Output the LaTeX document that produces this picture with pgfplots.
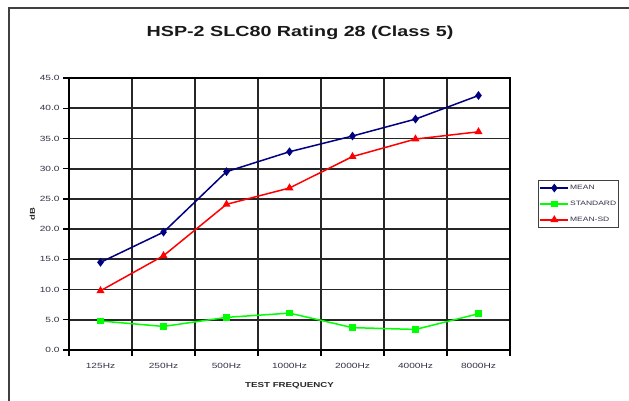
\documentclass[border=0pt]{standalone}
\usepackage{fontspec}
\usepackage{pgfplots}
\pgfplotsset{compat=1.18}
\newfontfamily\cf[FakeStretch=1.35]{Liberation Sans}
\definecolor{meancol}{RGB}{0,0,128}
\definecolor{stdcol}{RGB}{0,255,0}
\definecolor{sdcol}{RGB}{255,0,0}
\definecolor{txtcol}{RGB}{50,50,70}
\begin{document}
\begin{tikzpicture}
\path[use as bounding box] (0,0) rectangle (629pt,401pt);
\draw[line width=2pt, black!75] (8.5pt,-2pt) -- (8.5pt,392.5pt) -- (640pt,392.5pt);
\node[font=\cf\bfseries\fontsize{14.6}{16}\selectfont, text=black!90] at (300pt,368pt) {HSP-2 SLC80 Rating 28 (Class 5)};
\begin{axis}[
  at={(69pt,51pt)}, anchor=south west,
  scale only axis, width=441pt, height=272pt,
  xmin=-0.5, xmax=6.5, ymin=0, ymax=45,
  xtick={0,1,2,3,4,5,6},
  xticklabels={125Hz,250Hz,500Hz,1000Hz,2000Hz,4000Hz,8000Hz},
  minor xtick={-0.5,0.5,1.5,2.5,3.5,4.5,5.5,6.5},
  major x tick style={draw=none},
  xminorgrids, ymajorgrids,
  ytick={0,5,...,45},
  yticklabel style={/pgf/number format/.cd, fixed, fixed zerofill, precision=1, assume math mode=true},
  tick align=outside, tick pos=left,
  major tick length=6pt, minor tick length=6pt,
  tick style={black, line width=1.3pt},
  grid style={black!85, line width=1.7pt},
  major grid style={black!85, line width=1.7pt},
  minor grid style={black!85, line width=1.7pt},
  axis line style={black, line width=1.7pt},
  tick label style={font=\cf\fontsize{7.5}{8}\selectfont, text=txtcol},
  xticklabel style={yshift=-4pt},
  xlabel={TEST FREQUENCY},
  xlabel style={font=\cf\bfseries\fontsize{7.2}{8}\selectfont, text=black!85, yshift=-7pt},
  ylabel={dB},
  ylabel style={font=\cf\bfseries\fontsize{7}{8}\selectfont, text=black!85, yshift=-2pt},
  legend style={at={(1,0.537)}, anchor=west, xshift=28pt,
    draw=black!75, line width=1.2pt, font=\cf\fontsize{6.3}{7}\selectfont,
    inner xsep=1pt, inner ysep=3pt, row sep=6pt, text=txtcol,
    nodes={inner xsep=1pt}},
  legend cell align=left,
  legend image code/.code={\draw[mark repeat=2,mark phase=2,#1] plot coordinates {(0pt,0pt) (14pt,0pt) (28pt,0pt)};},
]
\addplot[meancol, line width=1.5pt, mark=diamond*, mark size=3.2pt] coordinates {
(0,14.5) (1,19.5) (2,29.5) (3,32.8) (4,35.4) (5,38.2) (6,42.1)};
\addlegendentry{MEAN}
\addplot[stdcol, line width=1.5pt, mark=square*, mark size=2.6pt] coordinates {
(0,4.8) (1,3.9) (2,5.4) (3,6.1) (4,3.7) (5,3.4) (6,6.0)};
\addlegendentry{STANDARD}
\addplot[sdcol, line width=1.5pt, mark=triangle*, mark size=3.2pt] coordinates {
(0,9.8) (1,15.6) (2,24.1) (3,26.8) (4,32.0) (5,34.9) (6,36.1)};
\addlegendentry{MEAN-SD}
\end{axis}
\end{tikzpicture}
\end{document}
